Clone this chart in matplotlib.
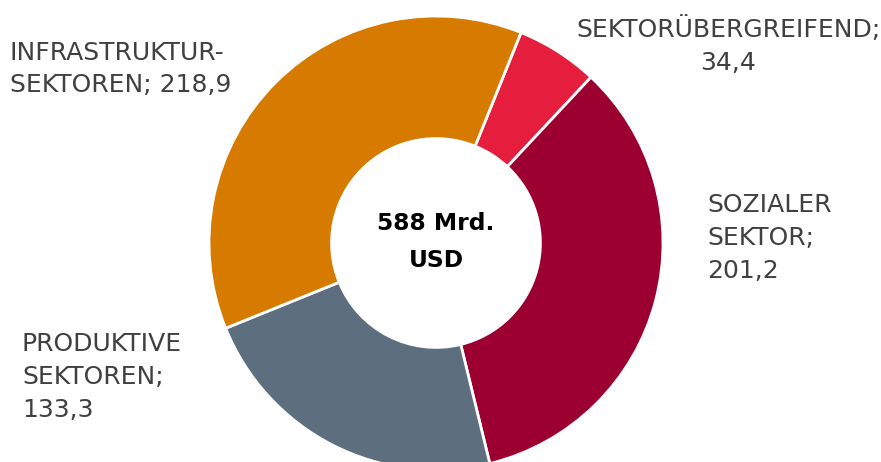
import matplotlib.pyplot as plt

# data (Mrd. USD)
sectors = ["SEKTORÜBERGREIFEND", "SOZIALER SEKTOR", "PRODUKTIVE SEKTOREN", "INFRASTRUKTUR-SEKTOREN"]
values = [34.4, 201.2, 133.3, 218.9]
colors = ["#E61E3E", "#9B0030", "#5D6E7F", "#D67B00"]
label_lines = [
    ["SEKTORÜBERGREIFEND;", "34,4"],
    ["SOZIALER", "SEKTOR;", "201,2"],
    ["PRODUKTIVE", "SEKTOREN;", "133,3"],
    ["INFRASTRUKTUR-", "SEKTOREN; 218,9"],
]
center_text = "588 Mrd.\nUSD"

plt.rcParams['font.family'] = ['DejaVu Sans']

W, H = 881, 462
fig = plt.figure(figsize=(W / 100, H / 100), dpi=100)
ax = fig.add_axes([0, 0, 1, 1])

cx, cy, r = 436, H - 243, 227
ax.pie(values, colors=colors, radius=r, center=(cx, cy), startangle=68,
       counterclock=False, frame=True,
       wedgeprops=dict(width=r * 0.54, edgecolor='white', linewidth=2))
ax.set_xlim(0, W)
ax.set_ylim(0, H)
ax.axis('off')

ax.text(cx, cy + 1, center_text, ha='center', va='center', fontsize=16.8,
        fontweight='bold', color='black', linespacing=1.75)

# label positions (pixel coords from top-left), alignment
pos = [(728, 46, 'center'), (707, 238, 'left'), (22, 377, 'left'), (10, 69, 'left')]
tc = '#404040'
for lines, (x, y, ha) in zip(label_lines, pos):
    ax.text(x, H - y, "\n".join(lines), ha=ha, va='center', fontsize=18,
            color=tc, linespacing=1.47, multialignment=ha)

fig.savefig('out.png', dpi=100)
